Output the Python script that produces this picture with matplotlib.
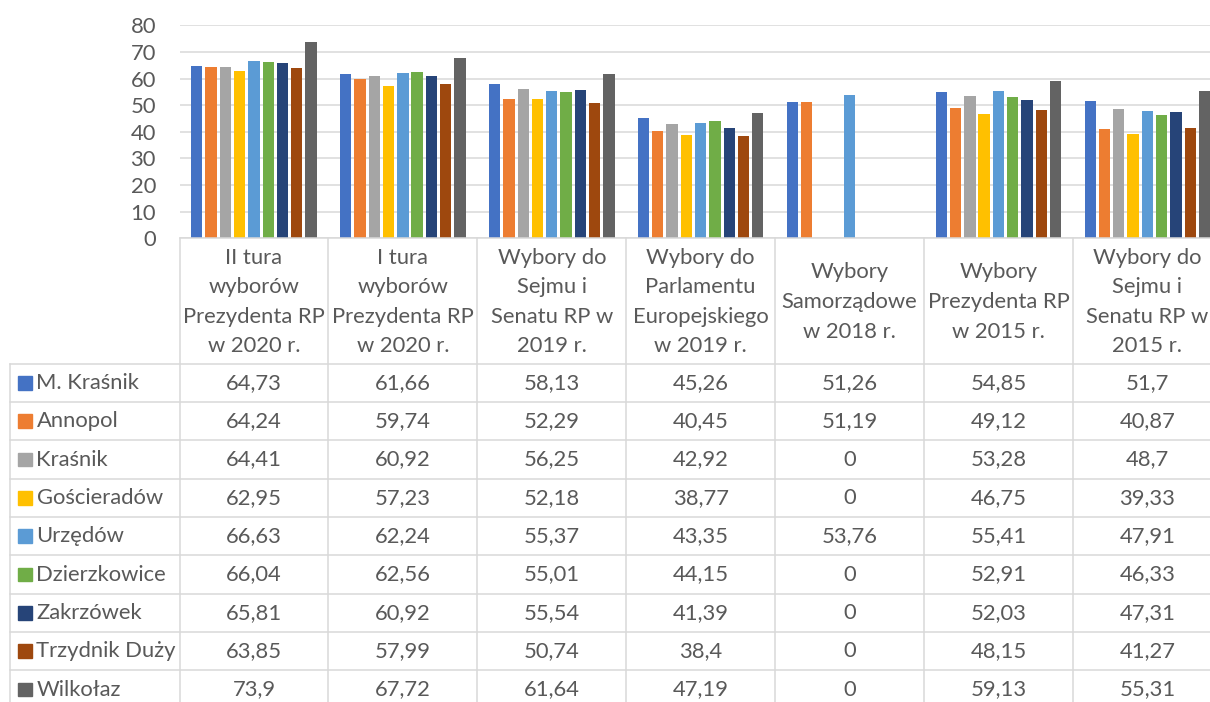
import matplotlib
matplotlib.use("Agg")
import matplotlib.pyplot as plt
from matplotlib.transforms import blended_transform_factory
from matplotlib.patches import Rectangle

plt.rcParams['font.family'] = ['Lato', 'DejaVu Sans']

categories = [
    "II tura\nwyborów\nPrezydenta RP\nw 2020 r.",
    "I tura\nwyborów\nPrezydenta RP\nw 2020 r.",
    "Wybory do\nSejmu i\nSenatu RP w\n2019 r.",
    "Wybory do\nParlamentu\nEuropejskiego\nw 2019 r.",
    "Wybory\nSamorządowe\nw 2018 r.",
    "Wybory\nPrezydenta RP\nw 2015 r.",
    "Wybory do\nSejmu i\nSenatu RP w\n2015 r.",
]
series_names = ["M. Kraśnik", "Annopol", "Kraśnik", "Gościeradów", "Urzędów",
                "Dzierzkowice", "Zakrzówek", "Trzydnik Duży", "Wilkołaz"]
m_krasnik = [64.73, 61.66, 58.13, 45.26, 51.26, 54.85, 51.7]
annopol = [64.24, 59.74, 52.29, 40.45, 51.19, 49.12, 40.87]
krasnik = [64.41, 60.92, 56.25, 42.92, 0, 53.28, 48.7]
goscieradow = [62.95, 57.23, 52.18, 38.77, 0, 46.75, 39.33]
urzedow = [66.63, 62.24, 55.37, 43.35, 53.76, 55.41, 47.91]
dzierzkowice = [66.04, 62.56, 55.01, 44.15, 0, 52.91, 46.33]
zakrzowek = [65.81, 60.92, 55.54, 41.39, 0, 52.03, 47.31]
trzydnik = [63.85, 57.99, 50.74, 38.4, 0, 48.15, 41.27]
wilkolaz = [73.9, 67.72, 61.64, 47.19, 0, 59.13, 55.31]
series_values = [m_krasnik, annopol, krasnik, goscieradow, urzedow,
                 dzierzkowice, zakrzowek, trzydnik, wilkolaz]
colors = ["#4472C4", "#ED7D31", "#A5A5A5", "#FFC000", "#5B9BD5",
          "#70AD47", "#264478", "#9E480E", "#636363"]
y_ticks = [0, 10, 20, 30, 40, 50, 60, 70, 80]

W, H = 1210, 702
TXT = "#595959"
GRID = "#D9D9D9"
FS = 15.8

fig = plt.figure(figsize=(W / 100, H / 100), dpi=100)

# main plot area (pixel layout)
x0, colw, ncol = 179.5, 148.9, len(categories)
y_top, y_zero = 25.3, 238.3
ax = fig.add_axes([x0 / W, 1 - y_zero / H, colw * ncol / W, (y_zero - y_top) / H])
ax.set_xlim(-0.5, ncol - 0.5)
ax.set_ylim(0, 80)
ax.set_yticks(y_ticks)
ax.set_yticklabels([str(t) for t in y_ticks], fontsize=FS, color=TXT)
ax.tick_params(axis='y', length=0, pad=17)
ax.set_xticks([])
for s in ax.spines.values():
    s.set_visible(False)
ax.yaxis.grid(True, color=GRID, linewidth=1.1)
ax.set_axisbelow(True)

step, bw = 0.096, 0.076
n = len(series_names)
for j, (vals, c) in enumerate(zip(series_values, colors)):
    xs = [i + (j - (n - 1) / 2) * step for i in range(ncol)]
    ax.bar(xs, vals, width=bw, color=c, zorder=3)

# table overlay
tab = fig.add_axes([0, 0, 1, 1], facecolor="none")
tab.set_xlim(0, W)
tab.set_ylim(H, 0)
tab.axis("off")
bt = blended_transform_factory(ax.transData, tab.transData)

row_top = 363.7
row_h = 38.33
left_edge = 10
lw_t = 1.1
# header top line (axis line)
tab.plot([-0.5, ncol - 0.5], [y_zero, y_zero], color=GRID, lw=lw_t, transform=bt, clip_on=False)
# vertical column lines
for i in range(ncol + 1):
    tab.plot([i - 0.5, i - 0.5], [y_zero, H + 5], color=GRID, lw=lw_t, transform=bt, clip_on=False)
# left border
tab.plot([left_edge, left_edge], [row_top, H + 5], color=GRID, lw=lw_t, clip_on=False)
# horizontal row lines
xr = ax.transData.transform((ncol - 0.5, 0))[0]
for k in range(n + 1):
    y = row_top + k * row_h
    tab.plot([left_edge, xr], [y, y], color=GRID, lw=lw_t, clip_on=False)

# header texts
for i, cat in enumerate(categories):
    tab.text(i, (y_zero + row_top) / 2 + 1, cat, transform=bt, ha="center", va="center",
             fontsize=FS, color=TXT, linespacing=1.6)

# rows
for k, (name, vals, c) in enumerate(zip(series_names, series_values, colors)):
    yc = row_top + (k + 0.5) * row_h
    tab.add_patch(Rectangle((18.3, yc - 6.7), 13.4, 13.4, color=c, clip_on=False))
    tab.text(36.5, yc, name, ha="left", va="center", fontsize=FS, color=TXT)
    for i, v in enumerate(vals):
        tab.text(i, yc, f"{v:g}".replace(".", ","), transform=bt, ha="center",
                 va="center", fontsize=FS, color=TXT)

fig.savefig("out.png", dpi=100)
